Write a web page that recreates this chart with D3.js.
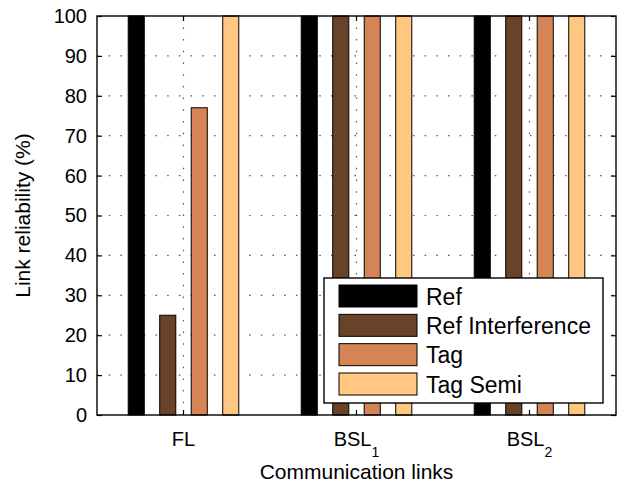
<!DOCTYPE html>
<html>
<head>
<meta charset="utf-8">
<script src="https://cdn.jsdelivr.net/npm/d3@7/dist/d3.min.js"></script>
<style>
  html, body { margin: 0; padding: 0; background: #fff; }
  svg { display: block; font-family: "Liberation Sans", Arial, Helvetica, sans-serif; }
</style>
</head>
<body>
<svg id="chart" width="618" height="483"></svg>
<script>
// ---- data ----
const categories = ["FL", "BSL1", "BSL2"];
const categoryMain = ["FL", "BSL", "BSL"];
const categorySub = ["", "1", "2"];
const series = ["Ref", "Ref Interference", "Tag", "Tag Semi"];
const refValues = [100, 100, 100];
const refInterferenceValues = [25, 100, 100];
const tagValues = [77, 100, 100];
const tagSemiValues = [100, 100, 100];
const yTicks = [0, 10, 20, 30, 40, 50, 60, 70, 80, 90, 100];
const seriesColors = ["#000000", "#6A422A", "#D58555", "#FFC77F"];
const yLabel = "Link reliability (%)";
const xLabel = "Communication links";

const valuesBySeries = [refValues, refInterferenceValues, tagValues, tagSemiValues];

// ---- layout ----
const svg = d3.select("#chart");
const m = { left: 97, right: 616, top: 16, bottom: 415 };

const x0 = d3.scaleBand().domain(categories).range([m.left, m.right]).paddingInner(0).paddingOuter(0);
const half = 63;
const x1 = d3.scaleBand().domain(series).range([-half, half]).paddingInner(0.49).paddingOuter(0.245);
const y = d3.scaleLinear().domain([0, 100]).range([m.bottom, m.top]);
const cx = c => x0(c) + x0.bandwidth() / 2;

// white plot background
svg.append("rect").attr("x", m.left).attr("y", m.top)
  .attr("width", m.right - m.left).attr("height", m.bottom - m.top).attr("fill", "#fff");

// grid lines (dotted)
const grid = svg.append("g").attr("stroke", "#555").attr("stroke-width", 1.2)
  .attr("stroke-dasharray", "1.5,10.2");
grid.selectAll("line.h").data(yTicks.filter(t => t > 0 && t < 100)).join("line")
  .attr("x1", m.left).attr("x2", m.right)
  .attr("y1", d => y(d)).attr("y2", d => y(d));
grid.selectAll("line.v").data(categories).join("line")
  .attr("x1", d => cx(d)).attr("x2", d => cx(d))
  .attr("y1", m.bottom).attr("y2", m.top);

// bars
const rows = [];
categories.forEach((c, ci) => series.forEach((s, si) => rows.push({ c, s, si, v: valuesBySeries[si][ci] })));
svg.append("g").selectAll("rect").data(rows).join("rect")
  .attr("x", d => x0(d.c) + x0.bandwidth() / 2 + x1(d.s))
  .attr("width", x1.bandwidth())
  .attr("y", d => y(d.v))
  .attr("height", d => y(0) - y(d.v))
  .attr("fill", d => seriesColors[d.si])
  .attr("stroke", "#000").attr("stroke-width", 1);

// axes
const tickLen = 5;
const yAxisL = d3.axisLeft(y).tickValues(yTicks).tickSize(-tickLen).tickPadding(10).tickFormat(d3.format("d"));
const yAxisR = d3.axisRight(y).tickValues(yTicks).tickSize(-tickLen).tickFormat("");
const xAxisB = d3.axisBottom(x0).tickSize(-tickLen).tickFormat("");
const xAxisT = d3.axisTop(x0).tickSize(-tickLen).tickFormat("");

const gL = svg.append("g").attr("transform", `translate(${m.left},0)`).call(yAxisL);
svg.append("g").attr("transform", `translate(${m.right},0)`).call(yAxisR);
svg.append("g").attr("transform", `translate(0,${m.bottom})`).call(xAxisB);
svg.append("g").attr("transform", `translate(0,${m.top})`).call(xAxisT);
svg.selectAll(".domain").remove();
svg.selectAll(".tick line").attr("stroke", "#000").attr("stroke-width", 1.2);
gL.selectAll(".tick text").attr("font-size", 20).attr("fill", "#000")
  .attr("font-family", "'Liberation Sans', Arial, sans-serif");

// x tick labels with subscripts
const xl = svg.append("g");
categories.forEach((c, i) => {
  const t = xl.append("text").attr("x", cx(c)).attr("y", 446)
    .attr("text-anchor", "middle").attr("font-size", 20).attr("fill", "#000");
  t.append("tspan").text(categoryMain[i]);
  if (categorySub[i]) t.append("tspan").attr("dy", 11).attr("font-size", 14).text(categorySub[i]);
});

// frame
svg.append("rect").attr("x", m.left).attr("y", m.top)
  .attr("width", m.right - m.left).attr("height", m.bottom - m.top)
  .attr("fill", "none").attr("stroke", "#000").attr("stroke-width", 1.4);

// axis titles
svg.append("text").attr("x", (m.left + m.right) / 2).attr("y", 479)
  .attr("text-anchor", "middle").attr("font-size", 21).attr("fill", "#000").text(xLabel);
svg.append("text").attr("transform", `translate(30,${(m.top + m.bottom) / 2}) rotate(-90)`)
  .attr("text-anchor", "middle").attr("font-size", 21).attr("fill", "#000").text(yLabel);

// legend
const lg = svg.append("g");
lg.append("rect").attr("x", 324).attr("y", 278).attr("width", 279).attr("height", 125)
  .attr("fill", "#fff").attr("stroke", "#000").attr("stroke-width", 1.4);
const ly = d3.scalePoint().domain(series).range([296, 384]);
lg.selectAll("rect.sw").data(series).join("rect").attr("class", "sw")
  .attr("x", 339).attr("width", 78).attr("y", d => ly(d) - 11).attr("height", 22)
  .attr("fill", (d, i) => seriesColors[i]).attr("stroke", "#000").attr("stroke-width", 1);
lg.selectAll("text").data(series).join("text")
  .attr("x", 426).attr("y", d => ly(d) + 8.5)
  .attr("font-size", 23).attr("fill", "#000").text(d => d);
</script>
</body>
</html>
